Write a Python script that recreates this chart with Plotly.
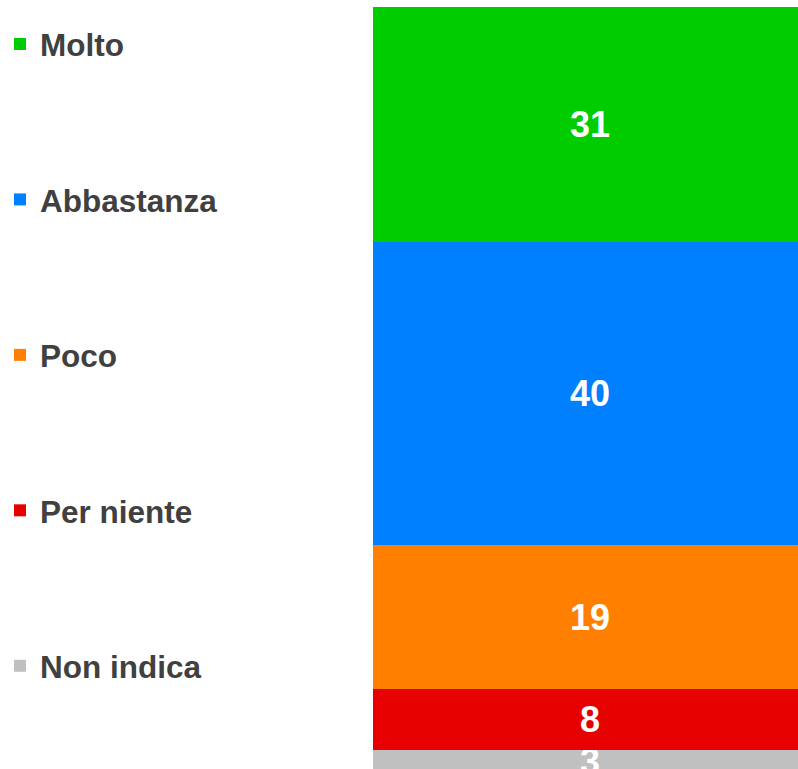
import plotly.graph_objects as go

categories = ["Molto", "Abbastanza", "Poco", "Per niente", "Non indica"]
values = [31, 40, 19, 8, 3]
colors = ["#00CC00", "#0080FF", "#FF8000", "#E60000", "#C0C0C0"]
x_label = [""]

FONT = "Liberation Sans, Arial, sans-serif"

fig = go.Figure()
# add from bottom of stack to top
for i in reversed(range(len(categories))):
    fig.add_trace(go.Bar(
        x=x_label, y=[values[i]], name=categories[i],
        marker=dict(color=colors[i], line=dict(width=0)),
        text=[str(values[i])], textposition="inside", insidetextanchor="middle",
        constraintext="none", textangle=0,
        textfont=dict(family=FONT, size=36, color="white", weight="bold"),
        legendgroup=categories[i], legendrank=i + 1,
        hoverinfo="skip",
    ))

W, H = 807, 769
ML, MT = 373, 7
PW, PH = W - ML, H - MT

fig.update_layout(
    width=W, height=H,
    barmode="stack", bargap=0,
    paper_bgcolor="white", plot_bgcolor="white",
    margin=dict(l=ML, r=0, t=MT, b=0, pad=0),
    xaxis=dict(visible=False, range=[-0.5, 0.5]),
    yaxis=dict(visible=False, range=[0.5, 101]),
    showlegend=True,
    uniformtext=dict(mode=False),
    legend=dict(
        x=-ML / PW, xanchor="left", y=1 - 10 / PH, yanchor="top",
        font=dict(family=FONT, size=31.5, color="#404040", weight="bold"),
        tracegroupgap=111.5, bgcolor="rgba(0,0,0,0)",
        maxheight=1000,
        itemclick=False, itemdoubleclick=False,
    ),
)

fig.write_html(
    "out.html",
    config={"displayModeBar": False},
    post_script="document.body.style.margin='0';document.body.style.overflow='hidden';",
)
